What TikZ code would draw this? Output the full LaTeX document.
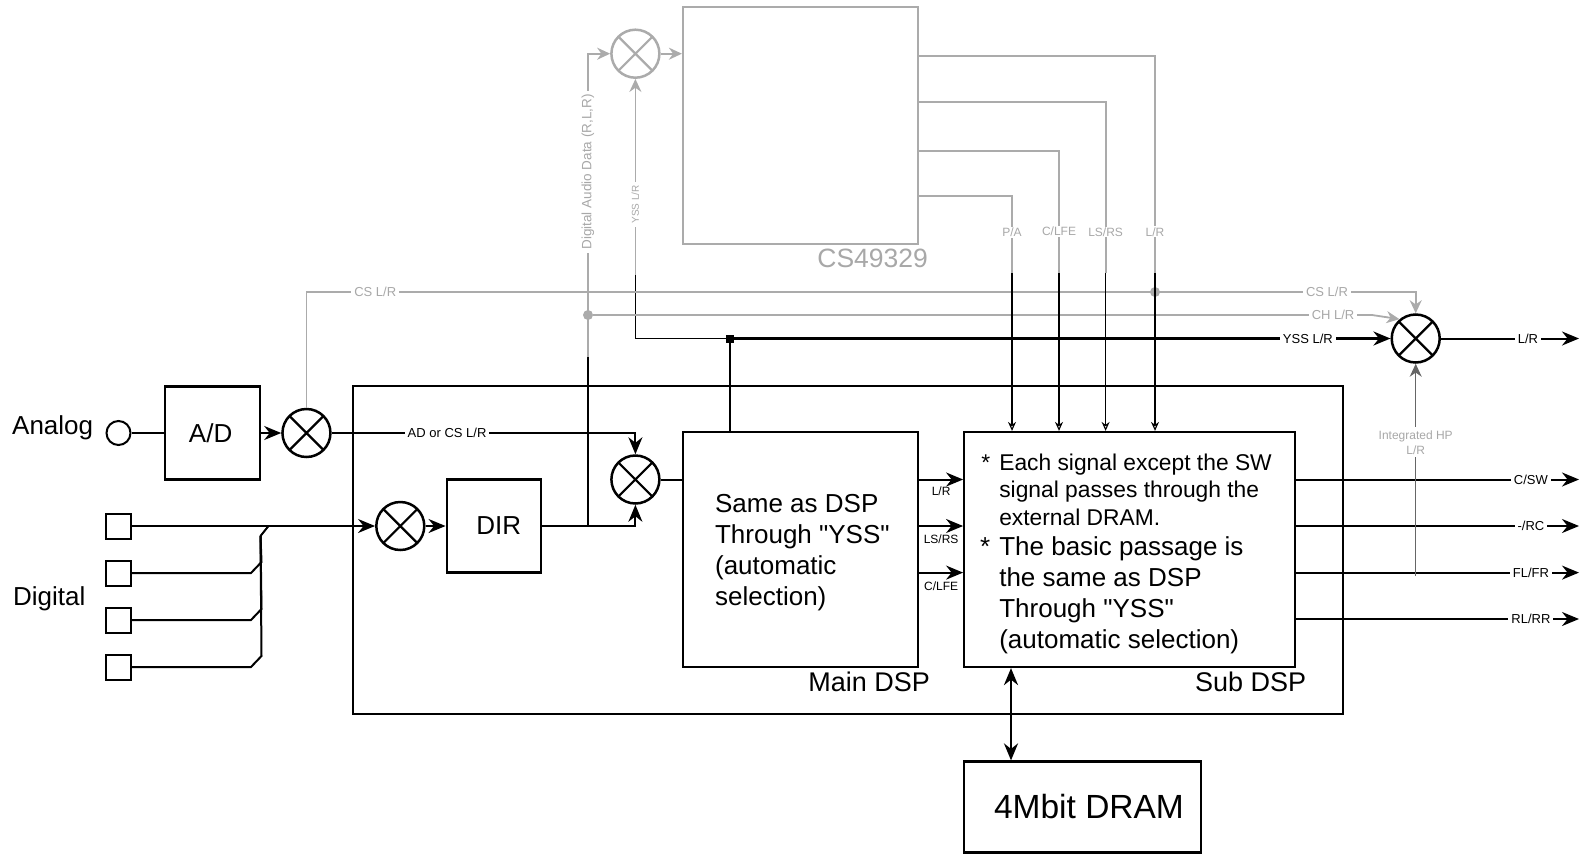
\documentclass[tikz,border=0pt]{standalone}
\usepackage{fontspec}
\setmainfont{Liberation Sans}[Ligatures=TeXOff]
\usetikzlibrary{arrows.meta,positioning}
\definecolor{fade}{HTML}{ABABAB}
\definecolor{fadetxt}{HTML}{A8A8A8}

\begin{document}
\begin{tikzpicture}[x=1pt,y=-1pt,
    box/.style={draw,line width=2.2pt,align=left,font=\fontsize{26}{31}\selectfont},
    mixer/.style={draw=#1,circle,line width=2.5pt,minimum size=48pt,inner sep=0pt,
      path picture={\draw[line width=2.2pt,draw=#1] (path picture bounding box.north west)--(path picture bounding box.south east)
        (path picture bounding box.north east)--(path picture bounding box.south west);}},
    mixer/.default=black,
    port/.style={draw,line width=2pt,minimum size=25pt,inner sep=0pt},
    jack/.style={draw,circle,line width=2pt,minimum size=24pt,inner sep=0pt},
    title/.style={font=\fontsize{27}{31}\selectfont,inner sep=0pt},
    noteA/.style={inner sep=0pt,align=left,font=\fontsize{22.8}{27.5}\selectfont},
    noteB/.style={inner sep=0pt,align=left,font=\fontsize{26}{31}\selectfont},
    sig/.style={font=\fontsize{13}{15}\selectfont,fill=white,inner sep=3pt},
    siglo/.style={font=\fontsize{13}{15}\selectfont,text=fadetxt,fill=white,inner sep=3pt},
    tag/.style={font=\fontsize{12}{14}\selectfont,inner sep=1pt},
    wire/.style={line width=2pt},
    thin wire/.style={line width=1.1pt},
    lo/.style={draw=fade,line width=1.8pt},
    dot/.style={circle,fill=fade,inner sep=0pt,minimum size=10pt},
    tip/.style={->,>={Stealth[length=13pt,width=12pt]}},
    tiny tip/.style={->,>={Stealth[length=9pt,width=8pt,open]}},
    >={Stealth[length=17pt,width=14pt]}]
    \useasboundingbox (0,0) rectangle (1589,854);
    % left side
    \node[jack] (jack) at (118.5,433) {};
    \node[box,minimum width=95pt,minimum height=93pt,right=32.5pt of jack] (ad) {A/D\hspace*{4pt}};
    \node[mixer,right=20pt of ad] (mixad) {};
    \node[port] (port1) at (118,526) {};
    \node[port,below=20pt of port1] (port2) {};
    \node[port,below=20pt of port2] (port3) {};
    \node[port,below=20pt of port3] (port4) {};
    \node[title,anchor=west,font=\fontsize{26}{31}\selectfont] (analog) at (12,428) {Analog};
    \node[title,anchor=west,font=\fontsize{26}{31}\selectfont] (digital) at (13,599) {Digital};
    % DSP block
    \node[box,minimum width=990pt,minimum height=328pt] (dsp) at (848,550) {};
    \node[mixer] (mixdir) at (400.3,526) {};
    \node[box,minimum width=94pt,minimum height=93pt,right=20pt of mixdir] (dir) {\hspace*{10pt}DIR};
    \node[mixer] (mixmain) at (635.4,479.5) {};
    \node[box,minimum width=235pt,minimum height=235pt] (main) at (800.5,549.5) {};
    \node[noteB,right=33pt of main.west,yshift=-3pt] (maintxt) {Same as DSP\\Through "YSS"\\(automatic\\selection)};
    \node[box,minimum width=331pt,minimum height=235pt,right=44pt of main] (sub) {};
    \node[noteA,right=36pt of sub.west,yshift=60pt] (subtxta) {\llap{*\hspace{9pt}}Each signal except the SW\\signal passes through the\\external DRAM.};
    \node[noteB,right=36pt of sub.west,yshift=-45.5pt] (subtxtb) {\llap{*\hspace{9pt}}The basic passage is\\the same as DSP\\Through "YSS"\\(automatic selection)};
    \node[title,below left=4pt and -11pt of main.south east] (mainname) {Main DSP};
    \node[title,below left=4pt and -10pt of sub.south east] (subname) {Sub DSP};
    \node[box,minimum width=237pt,minimum height=91pt,font=\fontsize{33.5}{38}\selectfont] (dram) at (1082.5,807) {\hspace*{13pt}4Mbit DRAM};
    % upper part
    \node[box,draw=fade,minimum width=235pt,minimum height=237pt] (cs) at (800.5,125.5) {};
    \node[title,text=fadetxt,font=\fontsize{26.5}{31}\selectfont,below left=4pt and -9pt of cs.south east] (csname) {CS49329};
    \node[mixer=fade] (mixtop) at (635.4,53.7) {};
    \node[mixer] (mixout) at (1415.7,338.5) {};

    \coordinate (csrail) at (0,292);
    \coordinate (chrail) at (0,315);
    \coordinate (ysspt) at (730,338.5);
    \node[dot] (chdot) at (588,315) {};
    \node[dot] (lrdot) at (1155,292) {};
    \coordinate (tapa) at (1012,273);
    \coordinate (tapb) at (1059,273);
    \coordinate (tapc) at (1105.6,273);
    \coordinate (tapd) at (1155,273);
    \coordinate (dirpt) at (588,526);
    \coordinate (dirup) at (588,357);
    \coordinate (yssup) at (635.4,275);
    \coordinate (bustop) at (260.5,536);
    \coordinate (oa) at (1579,479.5);
    \coordinate (ob) at (1579,526);
    \coordinate (oc) at (1579,572.6);
    \coordinate (od) at (1579,619);
    \coordinate (ol) at (1579,338.5);
    \coordinate (hppt) at (1415.7,576);
    \coordinate (drampt) at (1011,714);

    % analog and digital inputs
    \draw[wire] (jack)--(ad);
    \draw[wire,->] (ad)--(mixad);
    \draw[wire,->] (port1)--(mixdir);
    \draw[wire] (port2.east)--++(119.5,0)--++(10.5,-11)--(bustop);
    \draw[wire] (port3.east)--++(119.5,0)--++(10.5,-11)--(bustop);
    \draw[wire] (port4.east)--++(119.5,0)--++(10.5,-11)--(bustop)--++(8,-10);
    \draw[wire,->] (mixdir)--(dir);
    \draw[wire,->] (mixad.east)--node[sig,pos=.38]{AD or CS L/R} (mixad.east-|mixmain)--(mixmain);
    \draw[wire,->] (dir.east)-|(mixmain);
    \draw[wire] (mixmain)--(mixmain-|main.west);
    % main to sub
    \draw[wire,->] (main.east|-oa)--node[tag,below=5pt]{L/R} (sub.west|-oa);
    \draw[wire,->] (main.east|-ob)--node[tag,below=7pt]{LS/RS} (sub.west|-ob);
    \draw[wire,->] (main.east|-oc)--node[tag,below=7pt]{C/LFE} (sub.west|-oc);
    % outputs
    \draw[wire,->] (sub.east|-oa)--node[sig,pos=.83]{C/SW} (oa);
    \draw[wire,->] (sub.east|-ob)--node[sig,pos=.83]{-/RC} (ob);
    \draw[wire,->] (sub.east|-oc)--node[sig,pos=.83]{FL/FR} (oc);
    \draw[wire,->] (sub.east|-od)--node[sig,pos=.83]{RL/RR} (od);
    \draw[wire,->] (mixout)--node[sig,pos=.63]{L/R} (ol);
    \draw[line width=2.5pt,<->] (drampt|-sub.south)--(drampt|-dram.north);
    % from the rails
    \draw[thin wire] (dirpt)--(dirup);
    \draw[lo,tip] (dirup)--node[siglo,font=\fontsize{13.5}{16}\selectfont,rotate=90,pos=.61]{Digital Audio Data (R,L,R)} (dirup|-mixtop)--(mixtop);
    \draw[lo,tip] (yssup)--node[siglo,font=\fontsize{10}{12}\selectfont,rotate=90,pos=.36]{YSS L/R} (mixtop);
    \draw[lo,tip] (mixtop)--(mixtop-|cs.west);
    \draw[thin wire] (yssup)--(yssup|-ysspt)--(ysspt);
    \draw[line width=2.5pt,->] (ysspt)--node[sig,pos=.875]{YSS L/R} (mixout);
    \draw[line width=2.5pt] (main.north-|ysspt)--(ysspt);
    \fill (ysspt) ++(-4,-4) rectangle ++(8,8);
    \draw[lo,tip] (mixad.north)--(mixad.north|-csrail)--node[siglo,pos=.062]{CS L/R} node[siglo,pos=.92]{CS L/R} (mixout.north|-csrail)--(mixout.north);
    \draw[lo,tip] (chdot)--node[siglo,pos=.95]{CH L/R} (1372,315)--(mixout.130);
    \draw[lo] (dirup)--(chdot);
    % CS49329 outputs
    \draw[lo] (cs.east|-0,196)--(tapa|-0,196)--node[tag,text=fadetxt,fill=white,pos=.47]{P/A} (tapa);
    \draw[lo] (cs.east|-0,151)--(tapb|-0,151)--node[tag,text=fadetxt,fill=white,pos=.66]{C/LFE} (tapb);
    \draw[lo] (cs.east|-0,102)--(tapc|-0,102)--node[tag,text=fadetxt,fill=white,pos=.76]{LS/RS} (tapc);
    \draw[lo] (cs.east|-0,56)--(tapd|-0,56)--node[tag,text=fadetxt,fill=white,pos=.81]{L/R} (tapd);
    \draw[thin wire,tiny tip] (tapa)--(tapa|-sub.north);
    \draw[thin wire,tiny tip] (tapb)--(tapb|-sub.north);
    \draw[thin wire,tiny tip] (tapc)--(tapc|-sub.north);
    \draw[thin wire,tiny tip] (tapd)--(tapd|-sub.north);
    % headphone return
    \draw[thin wire,draw=black!60,tip] (hppt)--node[font=\fontsize{12}{15}\selectfont,text=fadetxt,fill=white,inner sep=3pt,align=center,pos=.63]{Integrated HP\\L/R} (mixout);
  \end{tikzpicture}
\end{document}
